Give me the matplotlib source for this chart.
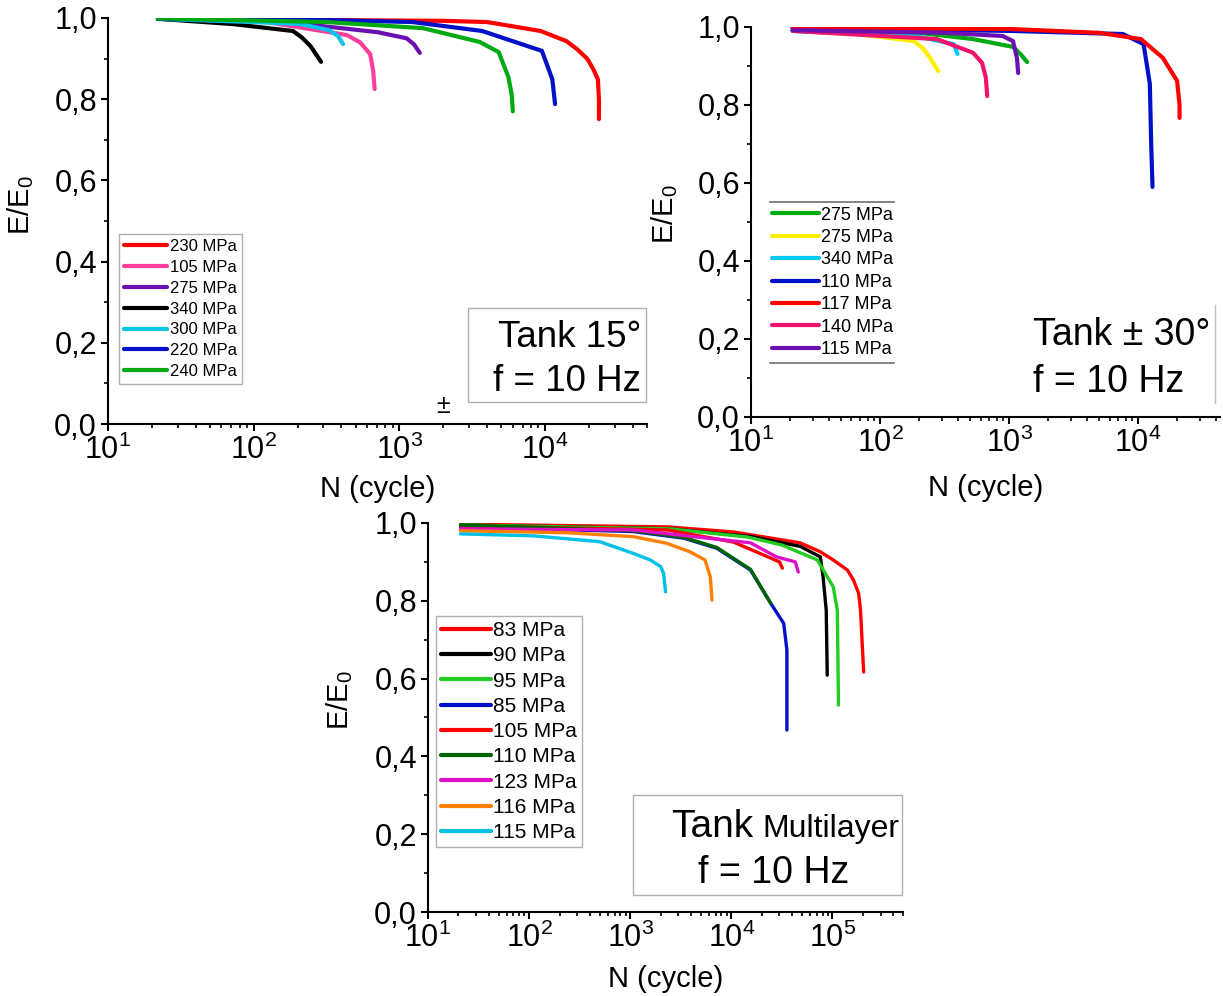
import matplotlib
matplotlib.use("Agg")
import matplotlib.pyplot as plt
from matplotlib.lines import Line2D
from matplotlib.patches import Rectangle
from matplotlib.ticker import LogLocator, MultipleLocator, FuncFormatter, NullFormatter

plt.rcParams['font.family'] = ['Liberation Sans', 'DejaVu Sans']
plt.rcParams['mathtext.fontset'] = 'custom'
plt.rcParams['mathtext.rm'] = 'Liberation Sans'
plt.rcParams['mathtext.default'] = 'regular'

W, H = 1223, 996

# --- Tank 15 deg ---
labels_15 = ["230 MPa", "105 MPa", "275 MPa", "340 MPa", "300 MPa", "220 MPa", "240 MPa"]
colors_15 = ["#ff0000", "#ff3d9a", "#6a0fb0", "#000000", "#00c4e8", "#0010c8", "#00aa10"]
n_15_230 = [22, 316, 2000, 4000, 9300, 14000, 16600, 19500, 21400, 23000, 23400, 23400]
e_15_230 = [0.998, 0.995, 0.993, 0.990, 0.968, 0.943, 0.923, 0.899, 0.874, 0.849, 0.800, 0.751]
n_15_105 = [22, 123, 436, 537, 630, 660, 676]
e_15_105 = [0.998, 0.990, 0.958, 0.940, 0.911, 0.870, 0.825]
n_15_275 = [22, 160, 355, 710, 1120, 1260, 1380]
e_15_275 = [0.998, 0.990, 0.977, 0.965, 0.950, 0.935, 0.914]
n_15_340 = [22, 72, 186, 214, 245, 290]
e_15_340 = [0.998, 0.985, 0.968, 0.952, 0.931, 0.892]
n_15_300 = [22, 100, 210, 330, 380, 410]
e_15_300 = [0.998, 0.990, 0.985, 0.970, 0.955, 0.936]
n_15_220 = [22, 316, 1230, 3700, 9500, 11200, 11700]
e_15_220 = [0.998, 0.995, 0.990, 0.968, 0.919, 0.849, 0.788]
n_15_240 = [22, 316, 1450, 3550, 4800, 5600, 5900, 6000]
e_15_240 = [0.999, 0.990, 0.975, 0.941, 0.916, 0.854, 0.810, 0.770]

# --- Tank +-30 deg ---
labels_30 = ["275 MPa", "275 MPa", "340 MPa", "110 MPa", "117 MPa", "140 MPa", "115 MPa"]
colors_30 = ["#00aa10", "#ffee00", "#00c8ea", "#0010c8", "#ff0000", "#f0146e", "#6a0fb0"]
n_30_275a = [21, 200, 525, 1070, 1230, 1380]
e_30_275a = [0.990, 0.985, 0.969, 0.949, 0.930, 0.910]
n_30_275b = [21, 66, 182, 214, 245, 282]
e_30_275b = [0.990, 0.982, 0.964, 0.946, 0.920, 0.887]
n_30_340 = [21, 200, 372, 398]
e_30_340 = [0.990, 0.975, 0.956, 0.931]
n_30_110 = [21, 1000, 7600, 11000, 12300, 12600, 12900]
e_30_110 = [0.997, 0.990, 0.982, 0.956, 0.854, 0.700, 0.590]
n_30_117 = [21, 1000, 5000, 10500, 15500, 20000, 20900, 20900]
e_30_117 = [0.997, 0.995, 0.985, 0.969, 0.921, 0.862, 0.800, 0.767]
n_30_140 = [21, 275, 525, 617, 660, 676]
e_30_140 = [0.990, 0.969, 0.934, 0.908, 0.870, 0.823]
n_30_115 = [21, 316, 890, 1070, 1150, 1175]
e_30_115 = [0.992, 0.985, 0.977, 0.964, 0.920, 0.882]

# --- Tank multilayer ---
labels_ml = ["83 MPa", "90 MPa", "95 MPa", "85 MPa", "105 MPa", "110 MPa", "123 MPa", "116 MPa", "115 MPa"]
colors_ml = ["#ff0000", "#000000", "#22cc22", "#0010c8", "#ff0000", "#006400", "#dd10c8", "#ff8000", "#00c0e8"]
n_ml_83 = [21, 2340, 10500, 48000, 76000, 102000, 141000, 162000, 182000, 190000, 204000]
e_ml_83 = [0.997, 0.990, 0.977, 0.949, 0.926, 0.905, 0.879, 0.853, 0.819, 0.776, 0.617]
n_ml_90 = [21, 2500, 15800, 48000, 76000, 81000, 87000, 89000]
e_ml_90 = [0.995, 0.985, 0.965, 0.940, 0.913, 0.861, 0.776, 0.609]
n_ml_95 = [21, 2500, 14500, 32000, 71000, 102000, 112000, 115000]
e_ml_95 = [0.995, 0.985, 0.964, 0.943, 0.905, 0.836, 0.776, 0.532]
n_ml_85 = [21, 1070, 3400, 7200, 15500, 24500, 33000, 35500, 35500]
e_ml_85 = [0.990, 0.978, 0.961, 0.935, 0.879, 0.794, 0.742, 0.674, 0.468]
n_ml_105 = [21, 2340, 10500, 23000, 30000, 32000]
e_ml_105 = [0.993, 0.982, 0.951, 0.913, 0.900, 0.884]
n_ml_110 = [21, 1070, 3400, 7200, 15500, 24500]
e_ml_110 = [0.995, 0.980, 0.963, 0.937, 0.881, 0.794]
n_ml_123 = [21, 1070, 15500, 28000, 43000, 46000]
e_ml_123 = [0.985, 0.982, 0.949, 0.913, 0.900, 0.874]
n_ml_116 = [21, 235, 1070, 2290, 3900, 5500, 6200, 6450]
e_ml_116 = [0.980, 0.975, 0.965, 0.948, 0.926, 0.905, 0.862, 0.802]
n_ml_115 = [21, 110, 500, 1070, 1580, 2000, 2140, 2240]
e_ml_115 = [0.972, 0.967, 0.952, 0.922, 0.905, 0.888, 0.871, 0.823]


def fx(x):
    return x / W


def fy(y):
    return 1 - y / H


def style_axes(ax, xmax):
    ax.set_xscale('log')
    ax.set_xlim(10, xmax)
    ax.set_ylim(0, 1.0)
    for s in ('top', 'right'):
        ax.spines[s].set_visible(False)
    for s in ('left', 'bottom'):
        ax.spines[s].set_linewidth(1.5)
    ax.xaxis.set_major_locator(LogLocator(base=10))
    ax.xaxis.set_minor_locator(LogLocator(base=10, subs=range(2, 10)))
    ax.xaxis.set_minor_formatter(NullFormatter())
    ax.yaxis.set_major_locator(MultipleLocator(0.2))
    ax.yaxis.set_minor_locator(MultipleLocator(0.1))
    ax.yaxis.set_major_formatter(FuncFormatter(lambda v, p: f"{v:.1f}".replace('.', ',')))
    ax.tick_params(which='major', direction='out', length=5, width=1.5, labelsize=22, pad=3)
    ax.tick_params(which='minor', direction='out', length=3, width=1.2)
    ax.set_xlabel("N (cycle)", fontsize=21, labelpad=0)
    ax.set_ylabel("E/E$_0$", fontsize=21)


fig = plt.figure(figsize=(W / 100, H / 100), dpi=100)

# panel 1
ax1 = fig.add_axes([fx(108), fy(424), (647 - 108) / W, (424 - 18) / H])
style_axes(ax1, 5.0e4)
series_15 = [(n_15_230, e_15_230), (n_15_105, e_15_105), (n_15_275, e_15_275), (n_15_340, e_15_340),
             (n_15_300, e_15_300), (n_15_220, e_15_220), (n_15_240, e_15_240)]
for (n, e), c, lab in zip(series_15, colors_15, labels_15):
    ax1.plot(n, e, color=c, lw=3.0, label=lab, solid_capstyle='round')
ax1.yaxis.set_label_coords(-0.134, 0.54)
ax1.xaxis.set_label_coords(0.5, -0.125)
leg1 = ax1.legend(loc='upper left', bbox_to_anchor=(fx(119), fy(234)), bbox_transform=fig.transFigure,
                  fontsize=12, handlelength=2.6, handletextpad=0.15, labelspacing=0.35,
                  borderpad=0.3, borderaxespad=0, fancybox=False, framealpha=1)
leg1.get_frame().set_edgecolor('#b0b0b0')
leg1.get_frame().set_linewidth(1.0)
for h in leg1.legend_handles:
    h.set_linewidth(3)
ax1.text(2000, 0.015, "±", fontsize=18, ha='center', va='bottom')
fig.add_artist(Rectangle((fx(468), fy(402)), (646 - 468) / W, (402 - 308) / H, transform=fig.transFigure,
                         fill=False, edgecolor='#b0b0b0', lw=1.0))
fig.text(fx(641), fy(347), "Tank 15°", fontsize=26.5, ha='right', va='baseline')
fig.text(fx(641), fy(391), "f = 10 Hz", fontsize=26.5, ha='right', va='baseline')

# panel 2
ax2 = fig.add_axes([fx(751), fy(417), (1220 - 751) / W, (417 - 27) / H])
style_axes(ax2, 4.3e4)
series_30 = [(n_30_275a, e_30_275a), (n_30_275b, e_30_275b), (n_30_340, e_30_340), (n_30_110, e_30_110),
             (n_30_117, e_30_117), (n_30_140, e_30_140), (n_30_115, e_30_115)]
for (n, e), c, lab in zip(series_30, colors_30, labels_30):
    ax2.plot(n, e, color=c, lw=3.0, label=lab, solid_capstyle='round')
ax2.yaxis.set_label_coords(-0.151, 0.52)
ax2.xaxis.set_label_coords(0.5, -0.145)
leg2 = ax2.legend(loc='upper left', bbox_to_anchor=(fx(768), fy(203)), bbox_transform=fig.transFigure,
                  fontsize=13, handlelength=2.6, handletextpad=0.15, labelspacing=0.3,
                  borderpad=0.2, borderaxespad=0, frameon=False)
for h in leg2.legend_handles:
    h.set_linewidth(3)
fig.add_artist(Line2D([fx(770), fx(894)], [fy(202), fy(202)], color='#707070', lw=1.2))
fig.add_artist(Line2D([fx(770), fx(894)], [fy(363), fy(363)], color='#707070', lw=1.2))
fig.add_artist(Line2D([fx(1215), fx(1215)], [fy(305), fy(403)], color='#c0c0c0', lw=1.0))
fig.text(fx(1033), fy(345), "Tank ± 30°", fontsize=27, ha='left', va='baseline')
fig.text(fx(1033), fy(392), "f = 10 Hz", fontsize=27, ha='left', va='baseline')

# panel 3
ax3 = fig.add_axes([fx(428), fy(912), (903 - 428) / W, (912 - 523) / H])
style_axes(ax3, 5.0e5)
series_ml = [(n_ml_83, e_ml_83), (n_ml_90, e_ml_90), (n_ml_95, e_ml_95), (n_ml_85, e_ml_85),
             (n_ml_105, e_ml_105), (n_ml_110, e_ml_110), (n_ml_123, e_ml_123), (n_ml_116, e_ml_116),
             (n_ml_115, e_ml_115)]
for (n, e), c, lab in zip(series_ml, colors_ml, labels_ml):
    ax3.plot(n, e, color=c, lw=2.4, label=lab, solid_capstyle='round')
ax3.yaxis.set_label_coords(-0.154, 0.545)
ax3.xaxis.set_label_coords(0.5, -0.135)
leg3 = ax3.legend(loc='upper left', bbox_to_anchor=(fx(436), fy(616)), bbox_transform=fig.transFigure,
                  fontsize=15, handlelength=2.4, handletextpad=0.1, labelspacing=0.3,
                  borderpad=0.25, borderaxespad=0, fancybox=False, framealpha=1)
leg3.get_frame().set_edgecolor('#b0b0b0')
leg3.get_frame().set_linewidth(1.0)
for h in leg3.legend_handles:
    h.set_linewidth(3)
fig.add_artist(Rectangle((fx(633), fy(895)), (902 - 633) / W, (895 - 795) / H, transform=fig.transFigure,
                         fill=False, edgecolor='#b0b0b0', lw=1.0))
fig.text(fx(753), fy(837), "Tank", fontsize=28, ha='right', va='baseline')
fig.text(fx(899), fy(837), "Multilayer", fontsize=23, ha='right', va='baseline')
fig.text(fx(698), fy(883), "f = 10 Hz", fontsize=27, ha='left', va='baseline')

fig.savefig("out.png", dpi=100)
